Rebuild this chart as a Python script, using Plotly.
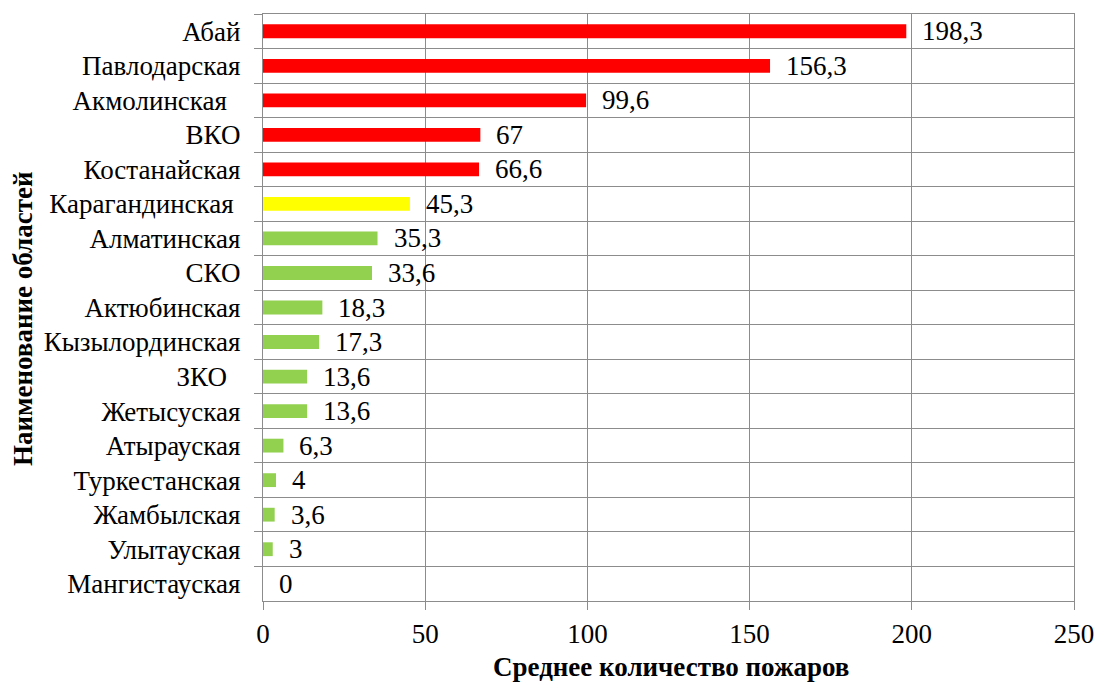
import plotly.graph_objects as go

regions = ["Абай", "Павлодарская", "Акмолинская\u00a0\u00a0", "ВКО", "Костанайская",
           "Карагандинская\u00a0", "Алматинская", "СКО", "Актюбинская", "Кызылординская",
           "ЗКО\u00a0\u00a0", "Жетысуская", "Атырауская", "Туркестанская", "Жамбылская",
           "Улытауская", "Мангистауская"]
values = [198.3, 156.3, 99.6, 67, 66.6, 45.3, 35.3, 33.6, 18.3, 17.3, 13.6, 13.6, 6.3, 4, 3.6, 3, 0]
colors = ["#FF0000"] * 5 + ["#FFFF00"] + ["#92D050"] * 11
labels = [f"{v:g}".replace(".", ",") for v in values]

FONT = "Liberation Serif"
GRID = "#8c8c8c"
W, H = 1096, 683
L, R, T, B = 263, 22, 14, 82
pw, ph = W - L - R, H - T - B

fig = go.Figure(go.Bar(
    x=values, y=regions, orientation="h",
    marker=dict(color=colors, line=dict(width=0)),
    width=0.4,
))

for v, r, t in zip(values, regions, labels):
    fig.add_annotation(x=v, y=r, text=t, showarrow=False, xanchor="left", yanchor="middle",
                       xshift=14, font=dict(family=FONT, size=27, color="black"))

fig.add_annotation(x=(671 - L) / pw, y=(H - 667 - B) / ph, xref="paper", yref="paper",
                   xanchor="center", yanchor="middle",
                   text="<b>Среднее количество пожаров</b>",
                   showarrow=False, font=dict(family=FONT, size=27, color="black"))
fig.add_annotation(x=(23 - L) / pw, y=(H - 318 - B) / ph, xref="paper", yref="paper",
                   xanchor="center", yanchor="middle",
                   text="<b>Наименование областей</b>", textangle=-90,
                   showarrow=False, font=dict(family=FONT, size=27, color="black"))

fig.update_layout(
    template="none",
    width=W, height=H,
    margin=dict(l=L, r=R, t=T, b=B),
    paper_bgcolor="white", plot_bgcolor="white",
    showlegend=False,
    font=dict(family=FONT, size=27, color="black"),
    xaxis=dict(range=[0, 250], dtick=50, showgrid=True, gridcolor=GRID, gridwidth=1.3,
               showline=True, linecolor=GRID, linewidth=1.3, mirror=True,
               ticks="outside", ticklen=8, tickcolor=GRID, tickwidth=1.3,
               zeroline=False, tickfont=dict(family=FONT, size=27, color="black"),
               automargin=False),
    yaxis=dict(autorange="reversed", type="category", tickson="boundaries",
               showgrid=True, gridcolor=GRID, gridwidth=1.3,
               showline=True, linecolor=GRID, linewidth=1.3, mirror=True,
               ticks="outside", ticklen=8, tickcolor=GRID, tickwidth=1.3,
               ticklabelstandoff=16, tickfont=dict(family=FONT, size=27, color="black"),
               automargin=False),
)

fig.write_html("out.html")
